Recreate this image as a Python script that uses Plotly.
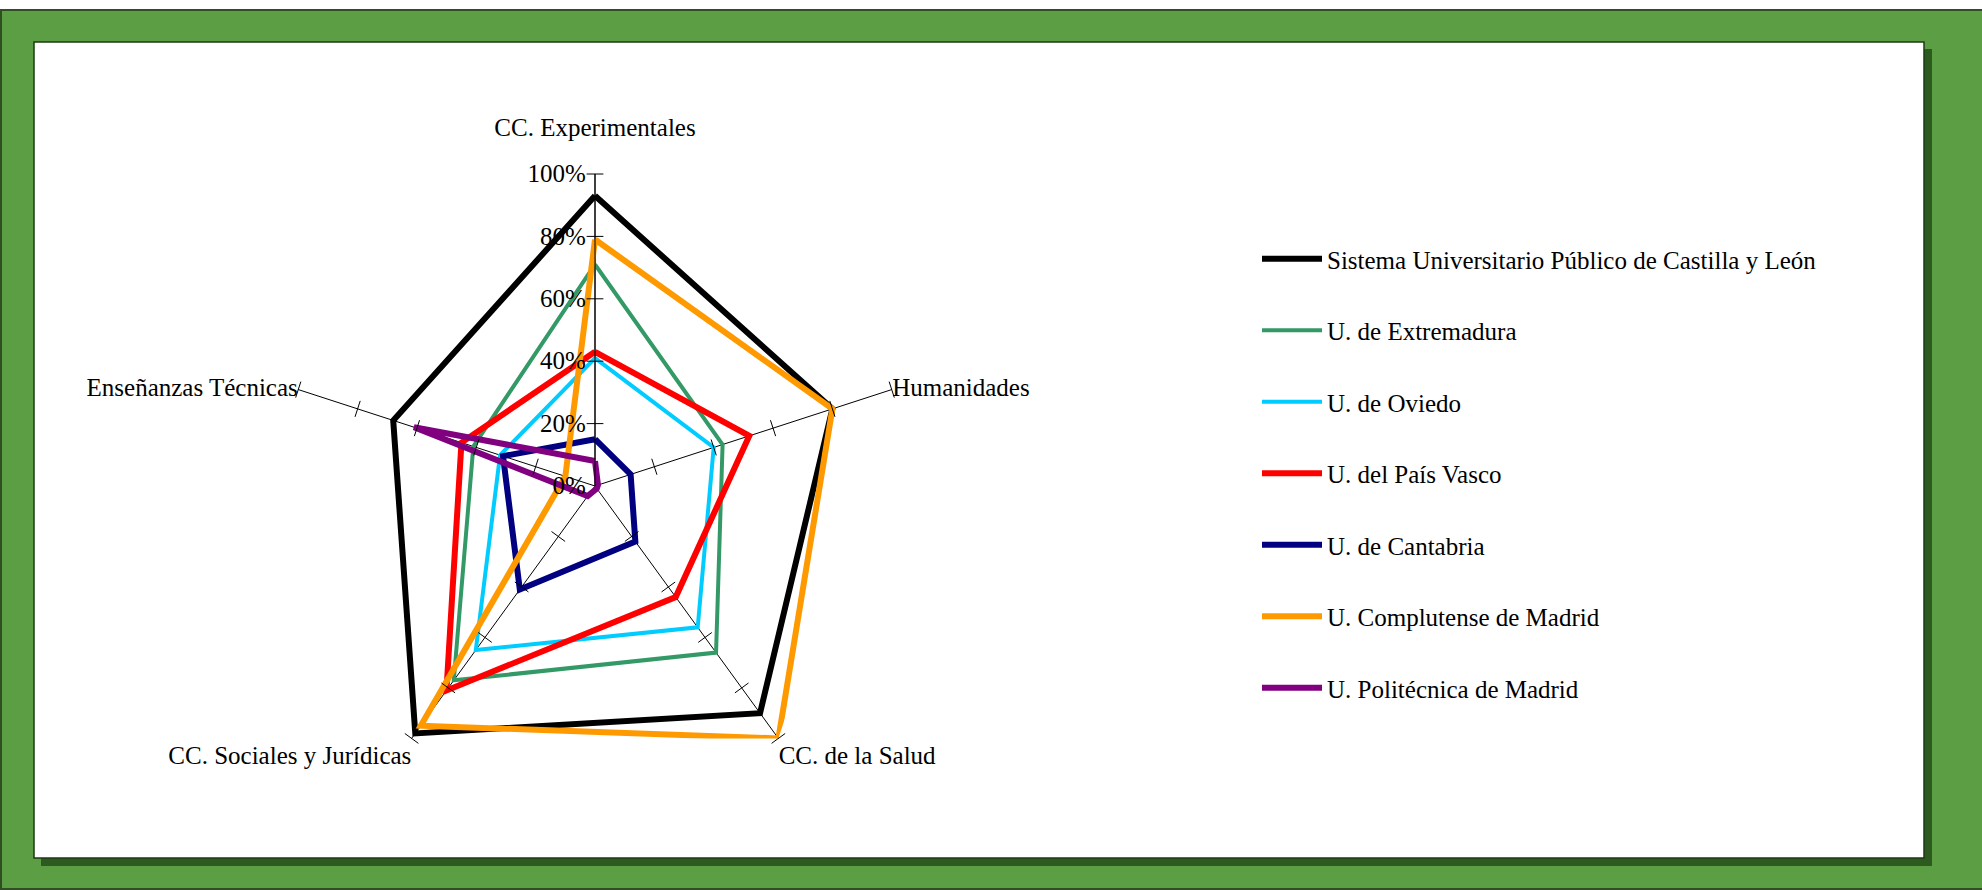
import plotly.graph_objects as go

W, H = 1982, 890

categories = ["CC. Experimentales", "Humanidades", "CC. de la Salud",
              "CC. Sociales y Jurídicas", "Enseñanzas Técnicas"]

sistema_cyl = [93, 80, 90, 98, 68]
u_extremadura = [71, 43, 66, 77, 41]
u_oviedo = [41, 40, 56, 65, 32]
u_pais_vasco = [43, 52, 44, 81, 45]
u_cantabria = [15, 12, 22, 41, 31]
u_complutense = [79, 80, 100, 95, 10]
u_politecnica = [8, 1, 1, 4, 61]

series_names = ["Sistema Universitario Público de Castilla y León",
                "U. de Extremadura", "U. de Oviedo", "U. del País Vasco",
                "U. de Cantabria", "U. Complutense de Madrid",
                "U. Politécnica de Madrid"]
series_values = [sistema_cyl, u_extremadura, u_oviedo, u_pais_vasco,
                 u_cantabria, u_complutense, u_politecnica]
series_colors = ["#000000", "#339966", "#00CCFF", "#FF0000",
                 "#000080", "#FF9900", "#800080"]
series_widths = [6, 4, 4, 6, 6, 6, 6]

tick_values = [0, 20, 40, 60, 80, 100]
tick_labels = ["0%", "20%", "40%", "60%", "80%", "100%"]

FONT = "Liberation Serif"
FS = 25

fig = go.Figure()

for name, vals, col, wd in zip(series_names, series_values, series_colors, series_widths):
    fig.add_trace(go.Scatterpolar(
        r=vals + vals[:1], theta=categories + categories[:1],
        mode="lines", name=name, legendgroup=name,
        line=dict(color=col, width=wd),
        hoverinfo="skip",
    ))

# perpendicular tick marks on each spoke
tk_r, tk_t, tk_a = [], [], []
for i, c in enumerate(categories):
    for v in tick_values[1:]:
        tk_r.append(v)
        tk_t.append(c)
        tk_a.append(i * 72)
fig.add_trace(go.Scatterpolar(
    r=tk_r, theta=tk_t, mode="markers", showlegend=False, hoverinfo="skip",
    marker=dict(symbol="line-ew", size=12, angle=tk_a,
                line=dict(color="black", width=1), color="black"),
))

# category label texts (top label gets an extra blank line for spacing)
cat_text = [categories[0] + "<br> "] + categories[1:]

def px(x):
    return x / W

def py(y):
    return 1 - y / H

shapes = [
    dict(type="rect", xref="paper", yref="paper", x0=px(1), x1=px(W + 5),
         y0=py(H - 1), y1=py(10), fillcolor="#5C9E44",
         line=dict(color="#2F4F23", width=2), layer="below"),
    dict(type="rect", xref="paper", yref="paper", x0=px(41), x1=px(1932),
         y0=py(866), y1=py(49), fillcolor="#2D5A1F", line=dict(width=0),
         layer="below"),
    dict(type="rect", xref="paper", yref="paper", x0=px(34), x1=px(1924),
         y0=py(858), y1=py(42), fillcolor="white",
         line=dict(color="#1E3A14", width=1.5), layer="below"),
]

cx, cy, R = 595, 486, 312
fig.update_layout(
    width=W, height=H,
    margin=dict(l=0, r=0, t=0, b=0),
    paper_bgcolor="white",
    plot_bgcolor="white",
    shapes=shapes,
    font=dict(family=FONT, size=FS, color="black"),
    polar=dict(
        domain=dict(x=[px(cx - R), px(cx + R)], y=[(H - cy - R) / H, (H - cy + R) / H]),
        bgcolor="rgba(0,0,0,0)",
        gridshape="linear",
        angularaxis=dict(
            direction="clockwise", rotation=90,
            showline=False, showgrid=True, gridcolor="black", gridwidth=1,
            ticks="", tickfont=dict(family=FONT, size=FS, color="black"),
            categoryorder="array", categoryarray=categories,
            tickmode="array", tickvals=categories, ticktext=cat_text,
        ),
        radialaxis=dict(
            range=[0, 100], angle=90, side="counterclockwise", tickangle=90,
            tickvals=tick_values, ticktext=tick_labels,
            showgrid=False, showline=True, linecolor="black", linewidth=1,
            ticks="", tickfont=dict(family=FONT, size=FS, color="black"),
        ),
    ),
    legend=dict(
        x=px(1257), y=py(236), xanchor="left", yanchor="top",
        font=dict(family=FONT, size=FS, color="black"),
        bgcolor="rgba(0,0,0,0)", tracegroupgap=36, itemwidth=60,
    ),
)

fig.write_html("out.html", config={"displayModeBar": False},
               post_script="document.body.style.margin='0';")
